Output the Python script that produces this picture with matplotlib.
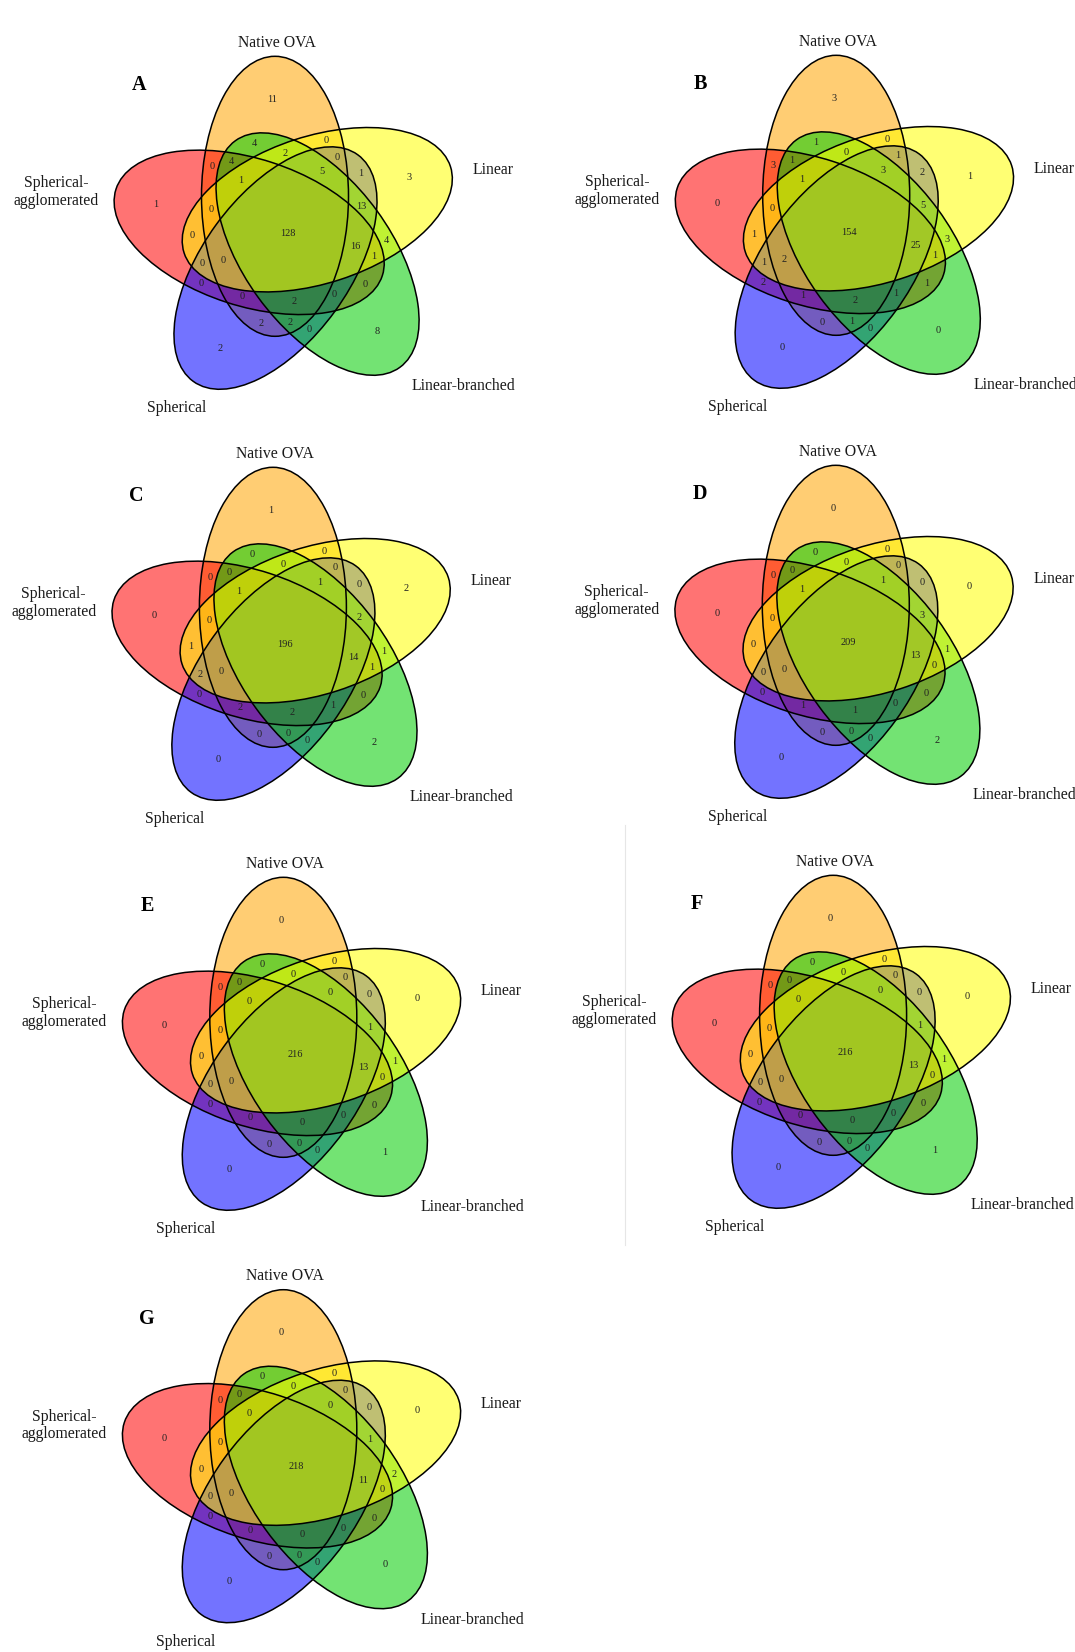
import numpy as np
import matplotlib
matplotlib.use('Agg')
import matplotlib.pyplot as plt
from matplotlib.patches import Ellipse

# sets, clockwise starting from the top ellipse
set_names = ['Native OVA', 'Linear', 'Linear-branched', 'Spherical', 'Spherical-\nagglomerated']
set_colors = ['#FFA500', '#FFFF00', '#00CD00', '#0000FF', '#FF0000']

# regions as tuples of set indices (0 Native OVA, 1 Linear, 2 Linear-branched, 3 Spherical, 4 Spherical-agglomerated)
regions = [
    (0,), (1,), (2,), (3,), (4,),
    (0, 1), (1, 2), (2, 3), (3, 4), (0, 4),
    (0, 2), (1, 3), (2, 4), (0, 3), (1, 4),
    (0, 1, 2), (1, 2, 3), (2, 3, 4), (0, 3, 4), (0, 1, 4),
    (0, 1, 3), (1, 2, 4), (0, 2, 3), (1, 3, 4), (0, 2, 4),
    (0, 1, 2, 3), (1, 2, 3, 4), (0, 2, 3, 4), (0, 1, 3, 4), (0, 1, 2, 4),
    (0, 1, 2, 3, 4),
]

counts_A = [11, 3, 8, 2, 1,  0, 4, 0, 0, 0,  4, 1, 0, 2, 0,
            2, 13, 0, 0, 0,  0, 1, 2, 0, 4,  5, 16, 2, 0, 1,  128]
counts_B = [3, 1, 0, 0, 0,  0, 3, 0, 2, 3,  1, 2, 1, 0, 1,
            0, 5, 1, 1, 0,  1, 1, 1, 1, 1,  3, 25, 2, 2, 1,  154]
counts_C = [1, 2, 2, 0, 0,  0, 1, 0, 0, 0,  0, 0, 0, 0, 1,
            0, 2, 1, 2, 0,  0, 1, 0, 2, 0,  1, 14, 2, 0, 1,  196]
counts_D = [0, 0, 2, 0, 0,  0, 1, 0, 0, 0,  0, 0, 0, 0, 0,
            0, 3, 0, 1, 0,  0, 0, 0, 0, 0,  1, 13, 1, 0, 1,  209]
counts_E = [0, 0, 1, 0, 0,  0, 1, 0, 0, 0,  0, 0, 0, 0, 0,
            0, 1, 0, 0, 0,  0, 0, 0, 0, 0,  0, 13, 0, 0, 0,  216]
counts_F = [0, 0, 1, 0, 0,  0, 1, 0, 0, 0,  0, 0, 0, 0, 0,
            0, 1, 0, 0, 0,  0, 0, 0, 0, 0,  0, 13, 0, 0, 0,  216]
counts_G = [0, 0, 0, 0, 0,  0, 2, 0, 0, 0,  0, 0, 0, 0, 0,
            0, 1, 0, 0, 0,  0, 0, 0, 0, 0,  0, 11, 0, 0, 0,  218]

panel_letters = ['A', 'B', 'C', 'D', 'E', 'F', 'G']
panel_counts = [counts_A, counts_B, counts_C, counts_D, counts_E, counts_F, counts_G]

# layout (pixel coordinates, y down)
panel_centers = [(286.9, 232.1), (848.1, 231.1), (284.8, 643.1), (847.7, 641.1),
                 (295.2, 1053.1), (845.0, 1051.1), (295.2, 1465.5)]
semi_major, semi_minor = 140.0, 73.5
base_offset = np.array([-11.9, -35.8])
base_dir = np.array([0.0, -1.0])
draw_order = [0, 4, 3, 2, 1]
fill_alpha = 0.55
name_offsets = [(-10, -189.5), (206, -62), (177, 154), (-110, 176), (-231, -40)]
letter_offset = (-148, -147)

# count label spot for one region of each kind; the other four are turned by 72 degrees
label_spots = {
    (0,): (-14.5, -132.8),
    (0, 1): (39.0, -91.5),
    (0, 2): (-32.6, -88.7),
    (0, 1, 2): (-1.7, -78.8),
    (0, 1, 3): (50.0, -75.1),
    (0, 1, 2, 3): (34.9, -60.2),
    (0, 1, 2, 3, 4): (0.6, 1.2),
}


def rot(v, deg):
    t = np.radians(deg)
    c, s = np.cos(t), np.sin(t)
    return np.array([v[0] * c - v[1] * s, v[0] * s + v[1] * c])


def spot_for(reg):
    for k in range(5):
        base = tuple(sorted((i - k) % 5 for i in reg))
        if base in label_spots:
            return rot(label_spots[base], 72 * k)
    return np.array([0.0, 0.0])


offsets = [rot(base_offset, 72 * i) for i in range(5)]
dirs = [rot(base_dir, 72 * i) for i in range(5)]
label_pos = [spot_for(reg) for reg in regions]

fig = plt.figure(figsize=(10.75, 16.52), dpi=100)
ax = fig.add_axes([0, 0, 1, 1])
ax.set_xlim(0, 1075)
ax.set_ylim(1652, 0)
ax.axis('off')

serif = ['Liberation Serif', 'DejaVu Serif']

for letter, counts, (cx, cy) in zip(panel_letters, panel_counts, panel_centers):
    for i in draw_order:
        ctr = (cx + offsets[i][0], cy + offsets[i][1])
        ang = np.degrees(np.arctan2(dirs[i][1], dirs[i][0]))
        ax.add_patch(Ellipse(ctr, 2 * semi_major, 2 * semi_minor, angle=ang,
                             facecolor=set_colors[i], alpha=fill_alpha, edgecolor='none'))
    for i in range(5):
        ctr = (cx + offsets[i][0], cy + offsets[i][1])
        ang = np.degrees(np.arctan2(dirs[i][1], dirs[i][0]))
        ax.add_patch(Ellipse(ctr, 2 * semi_major, 2 * semi_minor, angle=ang,
                             fill=False, edgecolor='black', lw=1.1))
    for (lx, ly), n in zip(label_pos, counts):
        ax.text(cx + lx, cy + ly, str(n), ha='center', va='center',
                fontsize=7.5, family=serif, color='#222222')
    for name, (ox, oy) in zip(set_names, name_offsets):
        ax.text(cx + ox, cy + oy, name, ha='center', va='center',
                fontsize=11.3, family=serif, color='#1a1a1a', linespacing=1.15)
    ax.text(cx + letter_offset[0], cy + letter_offset[1], letter, ha='center', va='center',
            fontsize=14.5, fontweight='bold', family=serif, color='black')

# faint frame line between panels E and F
ax.plot([625, 625], [825, 1245], color='#e6e6e6', lw=0.8)

fig.savefig('out.png', dpi=100)
